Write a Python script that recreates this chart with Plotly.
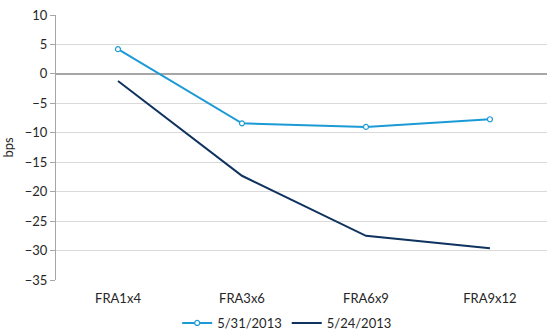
import plotly.graph_objects as go

categories = ["FRA1x4", "FRA3x6", "FRA6x9", "FRA9x12"]
series_0531 = [4.2, -8.4, -9.0, -7.7]
series_0524 = [-1.2, -17.3, -27.5, -29.6]
y_ticks = [10, 5, 0, -5, -10, -15, -20, -25, -30, -35]

FONT = "Lato"

fig = go.Figure()
fig.add_trace(go.Scatter(
    x=categories, y=series_0531, name="5/31/2013",
    mode="lines+markers",
    line=dict(color="#1B9AD6", width=2),
    marker=dict(symbol="circle", size=5, color="white",
                line=dict(color="#1B9AD6", width=1.2)),
))
fig.add_trace(go.Scatter(
    x=categories, y=series_0524, name="5/24/2013",
    mode="lines",
    line=dict(color="#10325F", width=2),
))

fig.update_layout(
    width=547, height=333,
    margin=dict(l=56, r=0, t=15, b=53, autoexpand=False),
    paper_bgcolor="white", plot_bgcolor="white",
    font=dict(family=FONT, size=13, color="#262626"),
    showlegend=True,
    legend=dict(orientation="h", x=0.525, xanchor="center",
                xref="container", yref="container", y=0.03,
                yanchor="middle", font=dict(size=13),
                tracegroupgap=0, bgcolor="rgba(0,0,0,0)"),
    xaxis=dict(
        type="category", range=[-0.5, 3.46],
        showgrid=False, showline=False, ticks="outside", ticklen=6,
        tickcolor="rgba(0,0,0,0)",
        tickfont=dict(size=13), zeroline=False,
    ),
    yaxis=dict(
        range=[-35, 10], tickvals=y_ticks,
        showgrid=True, gridcolor="#D9D9D9", gridwidth=1,
        zeroline=True, zerolinecolor="#A6A6A6", zerolinewidth=1.5,
        showline=True, linecolor="#A6A6A6", linewidth=1,
        ticks="outside", ticklen=5, tickcolor="#A6A6A6",
        tickfont=dict(size=13),
        title=dict(text="bps", font=dict(size=13), standoff=12),
    ),
)

fig.write_html("out.html")
